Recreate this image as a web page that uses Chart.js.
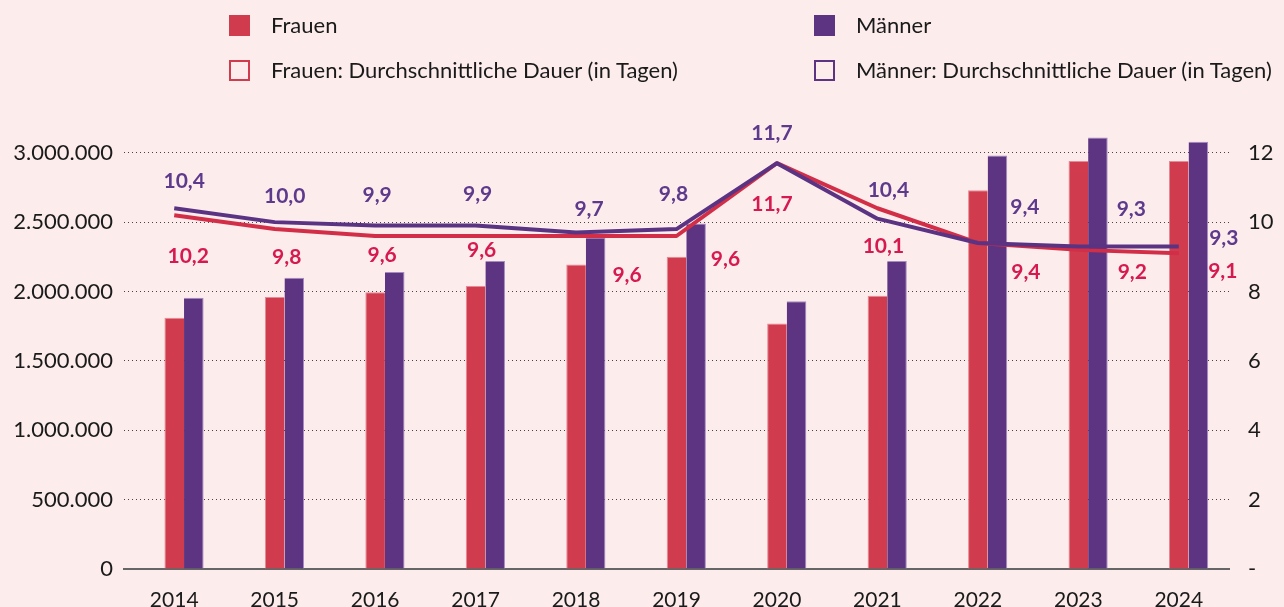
<!DOCTYPE html>
<html lang="de">
<head>
    <meta charset="UTF-8">
    <title>Frauen und Männer – Dauer</title>
    <script src="https://cdn.jsdelivr.net/npm/chart.js"></script>
    <style>
        html, body { margin: 0; padding: 0; background: #fcecec; }
        .wrap { position: relative; width: 1284px; height: 607px; overflow: hidden; }
        .legend-item { position: absolute; font-family: Lato, sans-serif; font-size: 22px; color: #1a1a1a; line-height: 24px; white-space: nowrap; }
        .box { position: absolute; width: 21px; height: 21px; box-sizing: border-box; }
        canvas { position: absolute; left: 0; top: 0; }
    </style>
</head>
<body>
<div class="wrap">
    <canvas id="chart" width="1284" height="607"></canvas>
    <!-- Legende -->
    <div class="box" style="left:229px; top:15px; background:#d03c4e;"></div>
    <div class="legend-item" style="left:271px; top:13px;">Frauen</div>
    <div class="box" style="left:229px; top:60px; border:2.5px solid #d03c4e;"></div>
    <div class="legend-item" style="left:271px; top:58px;">Frauen: Durchschnittliche Dauer (in Tagen)</div>
    <div class="box" style="left:814px; top:15px; background:#5c3482;"></div>
    <div class="legend-item" style="left:856px; top:13px;">Männer</div>
    <div class="box" style="left:814px; top:60px; border:2.5px solid #5c3482;"></div>
    <div class="legend-item" style="left:856px; top:58px;">Männer: Durchschnittliche Dauer (in Tagen)</div>
</div>

<script>
    // Daten
    const jahre = ['2014', '2015', '2016', '2017', '2018', '2019', '2020', '2021', '2022', '2023', '2024'];
    const frauenFaelle = [1810000, 1960000, 1995000, 2040000, 2195000, 2250000, 1770000, 1970000, 2730000, 2940000, 2940000];
    const maennerFaelle = [1955000, 2100000, 2140000, 2220000, 2390000, 2490000, 1930000, 2220000, 2980000, 3110000, 3080000];
    // Linienverlauf wie im Bild
    const frauenDauer = [10.2, 9.8, 9.6, 9.6, 9.6, 9.6, 11.7, 10.4, 9.4, 9.2, 9.1];
    const maennerDauer = [10.4, 10.0, 9.9, 9.9, 9.7, 9.8, 11.7, 10.1, 9.4, 9.3, 9.3];
    // Beschriftungen
    const frauenLabels = ['10,2', '9,8', '9,6', '9,6', '9,6', '9,6', '11,7', '10,1', '9,4', '9,2', '9,1'];
    const maennerLabels = ['10,4', '10,0', '9,9', '9,9', '9,7', '9,8', '11,7', '10,4', '9,4', '9,3', '9,3'];
    const linksTicks = [0, 500000, 1000000, 1500000, 2000000, 2500000, 3000000];
    const rechtsTicks = [0, 2, 4, 6, 8, 10, 12];

    // Versatz der Beschriftungen (px)
    const frauenLabelOffset = [[14, 41], [12, 28], [7, 19], [6, 14], [51, 39], [49, 23], [-5, 41], [6, 28], [48, 29], [54, 22], [44, 18]];
    const maennerLabelOffset = [[10, -27], [10, -26], [2, -30], [2, -31], [13, -23], [-3, -35], [-5, -30], [11, -18], [47, -36], [53, -37], [45, -8]];

    const FONT = 'Lato, sans-serif';

    function punkte(v) {
        return String(v).replace(/\B(?=(\d{3})+(?!\d))/g, '.');
    }

    const labelPlugin = {
        id: 'wertLabels',
        afterDatasetsDraw(chart) {
            const ctx = chart.ctx;
            const x = chart.scales.x;
            const y1 = chart.scales.y1;
            ctx.save();
            ctx.font = 'bold 21px ' + FONT;
            ctx.textAlign = 'center';
            ctx.textBaseline = 'middle';
            const zeichne = (labels, offs, farbe) => {
                ctx.fillStyle = farbe;
                labels.forEach((t, i) => {
                    const v = parseFloat(t.replace(',', '.'));
                    ctx.fillText(t, x.getPixelForValue(i) + offs[i][0], y1.getPixelForValue(v) + offs[i][1]);
                });
            };
            zeichne(frauenLabels, frauenLabelOffset, '#d6194e');
            zeichne(maennerLabels, maennerLabelOffset, '#5e3a8c');
            ctx.restore();
        }
    };

    new Chart(document.getElementById('chart'), {
        type: 'bar',
        data: {
            labels: jahre,
            datasets: [
                {
                    // Platzhalter, damit die Balkengruppe wie im Original nach rechts versetzt ist
                    label: '',
                    data: jahre.map(() => null),
                    yAxisID: 'y',
                    order: 3
                },
                {
                    label: 'Frauen',
                    data: frauenFaelle,
                    backgroundColor: '#d03c4e',
                    borderColor: '#e58a96',
                    borderWidth: { left: 1, top: 1, right: 0, bottom: 0 },
                    yAxisID: 'y',
                    order: 3
                },
                {
                    label: 'Männer',
                    data: maennerFaelle,
                    backgroundColor: '#5c3482',
                    borderColor: '#a58cc0',
                    borderWidth: { left: 0, top: 1, right: 1, bottom: 0 },
                    yAxisID: 'y',
                    order: 3
                },
                {
                    type: 'line',
                    label: 'Frauen: Durchschnittliche Dauer (in Tagen)',
                    data: frauenDauer,
                    borderColor: '#d22e47',
                    borderWidth: 4,
                    pointRadius: 0,
                    tension: 0,
                    borderJoinStyle: 'round',
                    yAxisID: 'y1',
                    order: 2
                },
                {
                    type: 'line',
                    label: 'Männer: Durchschnittliche Dauer (in Tagen)',
                    data: maennerDauer,
                    borderColor: '#5a3383',
                    borderWidth: 4,
                    pointRadius: 0,
                    tension: 0,
                    borderJoinStyle: 'round',
                    yAxisID: 'y1',
                    order: 1
                }
            ]
        },
        options: {
            responsive: false,
            animation: false,
            layout: { padding: { top: 125, left: 0, right: 0, bottom: 0 } },
            datasets: {
                bar: { categoryPercentage: 0.585, barPercentage: 1 }
            },
            plugins: {
                legend: { display: false },
                tooltip: { enabled: false }
            },
            scales: {
                x: {
                    offset: true,
                    grid: { display: false },
                    border: { display: true, color: '#666', width: 2 },
                    ticks: { color: '#1a1a1a', font: { family: FONT, size: 21 }, padding: 11, maxRotation: 0 },
                    afterFit(scale) { scale.height = 38; }
                },
                y: {
                    position: 'left',
                    min: 0,
                    max: 3200000,
                    afterBuildTicks(scale) { scale.ticks = linksTicks.map(v => ({ value: v })); },
                    afterFit(scale) { scale.width = 124; },
                    grid: {
                        drawTicks: false,
                        color: ctx => (ctx.tick && ctx.tick.value === 0) ? 'rgba(0,0,0,0)' : '#444',
                        lineWidth: 1
                    },
                    border: { display: false, dash: [1, 3] },
                    ticks: {
                        color: '#1a1a1a',
                        font: { family: FONT, size: 22 },
                        padding: 11,
                        callback: v => punkte(v)
                    }
                },
                y1: {
                    position: 'right',
                    min: 0,
                    max: 12.8,
                    afterBuildTicks(scale) { scale.ticks = rechtsTicks.map(v => ({ value: v })); },
                    afterFit(scale) { scale.width = 55; },
                    grid: { display: false, drawTicks: false },
                    border: { display: false },
                    ticks: {
                        color: '#1a1a1a',
                        font: { family: FONT, size: 22 },
                        padding: 19,
                        callback: v => v === 0 ? '-' : String(v)
                    }
                }
            }
        },
        plugins: [labelPlugin]
    });
</script>
</body>
</html>
